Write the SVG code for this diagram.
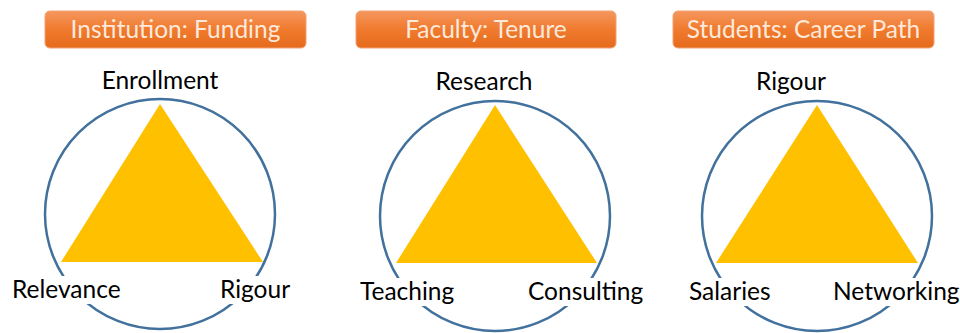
<svg xmlns="http://www.w3.org/2000/svg" width="960" height="333" viewBox="0 0 960 333">
<defs>
<linearGradient id="og" x1="0" y1="0" x2="0" y2="1">
<stop offset="0" stop-color="#f5975e"/>
<stop offset="0.5" stop-color="#f07a2e"/>
<stop offset="1" stop-color="#e56b1c"/>
</linearGradient>
<style>
.hdr{fill:url(#og);stroke:#f4a070;stroke-width:1}
.ht{font-family:Lato,"Liberation Sans",sans-serif;font-size:24.5px;fill:#fde9db;text-anchor:middle}
.ring{fill:none;stroke:#41719c;stroke-width:2.5}
.tri{fill:#ffc000}
.lb{font-family:Lato,"Liberation Sans",sans-serif;font-size:24.5px;fill:#000}
.m{text-anchor:middle}
</style>
</defs>
<rect width="960" height="333" fill="#fff"/>
<g id="institution">
<rect class="hdr" x="45" y="11" width="261" height="37" rx="5"/>
<text class="ht" x="175.5" y="38">Institution: Funding</text>
<circle class="ring" cx="160" cy="214" r="115"/>
<polygon class="tri" points="160,104 61,262 263,262"/>
<rect x="8" y="276" width="118" height="28" fill="#fff"/>
<rect x="214" y="276" width="80" height="28" fill="#fff"/>
<text class="lb m" x="160" y="89">Enrollment</text>
<text class="lb" x="12" y="298">Relevance</text>
<text class="lb" x="220" y="298">Rigour</text>
</g>
<g id="faculty">
<rect class="hdr" x="356" y="11" width="260" height="37" rx="5"/>
<text class="ht" x="486" y="38">Faculty: Tenure</text>
<circle class="ring" cx="495" cy="216" r="115"/>
<polygon class="tri" points="495,105 396,263 597,263"/>
<rect x="356" y="278" width="104" height="28" fill="#fff"/>
<rect x="524" y="278" width="120" height="28" fill="#fff"/>
<text class="lb m" x="484" y="90">Research</text>
<text class="lb" x="360" y="300">Teaching</text>
<text class="lb" x="528" y="300">Consulting</text>
</g>
<g id="students">
<rect class="hdr" x="673" y="11" width="261" height="37" rx="5"/>
<text class="ht" x="803.5" y="38">Students: Career Path</text>
<circle class="ring" cx="817" cy="216" r="115"/>
<polygon class="tri" points="817,105 716,263 918,263"/>
<rect x="685" y="278" width="90" height="28" fill="#fff"/>
<rect x="829" y="278" width="131" height="28" fill="#fff"/>
<text class="lb m" x="791" y="90">Rigour</text>
<text class="lb" x="689" y="300">Salaries</text>
<text class="lb" x="833" y="300">Networking</text>
</g>
<g id="connectors"/>
</svg>
